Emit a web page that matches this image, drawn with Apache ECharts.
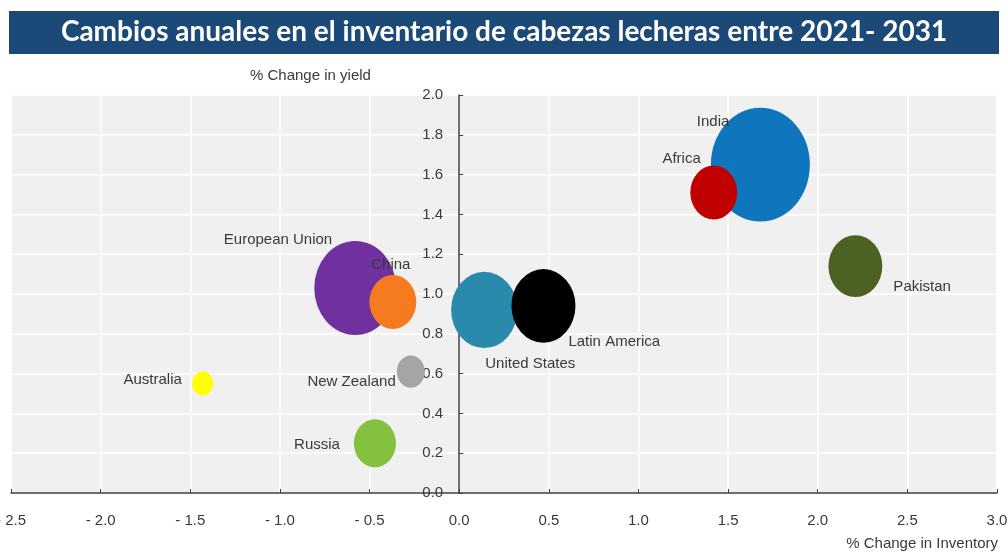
<!DOCTYPE html>
<html>
<head>
<meta charset="utf-8">
<script src="https://cdn.jsdelivr.net/npm/echarts@6/dist/echarts.min.js"></script>
<style>
html,body{margin:0;padding:0;background:#fff;}
#chart{width:1008px;height:555px;}
</style>
</head>
<body>
<div id="chart"></div>
<script>
// ---- data ----
const countries = ['European Union', 'China', 'India', 'Africa', 'United States', 'Latin America', 'Pakistan', 'New Zealand', 'Australia', 'Russia'];
const inventoryChange = [-0.58, -0.37, 1.68, 1.42, 0.14, 0.47, 2.21, -0.27, -1.43, -0.47];
const yieldChange = [1.03, 0.96, 1.65, 1.51, 0.92, 0.94, 1.14, 0.61, 0.55, 0.25];
const bubbleSize = [67, 22, 98, 22, 44, 41, 29, 7.8, 4.4, 17.6];
const xTicks = [-2.5, -2.0, -1.5, -1.0, -0.5, 0.0, 0.5, 1.0, 1.5, 2.0, 2.5, 3.0];
const yTicks = [0.0, 0.2, 0.4, 0.6, 0.8, 1.0, 1.2, 1.4, 1.6, 1.8, 2.0];
const titleText = 'Cambios anuales en el inventario de cabezas lecheras entre 2021- 2031';
const yAxisName = '% Change in yield';
const xAxisName = '% Change in Inventory';

// ---- styles ----
const colors = {
  'European Union': '#7030a0', 'China': '#f47b20', 'India': '#0f75bc', 'Africa': '#c00000',
  'United States': '#2a8aab', 'Latin America': '#000000', 'Pakistan': '#4b6224',
  'New Zealand': '#a5a5a5', 'Australia': '#ffff00', 'Russia': '#84c13f'
};
const labelStyle = {
  'European Union': {align: 'right', offset: [-23, -48]},
  'China': {align: 'center', offset: [-2, -37]},
  'India': {align: 'right', offset: [-31, -43]},
  'Africa': {align: 'right', offset: [-13, -34]},
  'United States': {align: 'left', offset: [1, 54]},
  'Latin America': {align: 'left', offset: [25, 36]},
  'Pakistan': {align: 'left', offset: [38, 21]},
  'New Zealand': {align: 'right', offset: [-15, 10]},
  'Australia': {align: 'right', offset: [-21, -4]},
  'Russia': {align: 'right', offset: [-35, 2]}
};
const FONT = "'Liberation Sans', Arial, sans-serif";
const TXT = '#3a3a3a';
const GRID = {left: 11, right: 11, top: 95, bottom: 62};
const W = 1008;

const xMin = xTicks[0], xMax = xTicks[xTicks.length - 1];
const gridW = W - GRID.left - GRID.right;
const yAxisOffset = -((0 - xMin) / (xMax - xMin)) * gridW;

const data = countries.map((c, i) => ({
  name: c,
  value: [inventoryChange[i], yieldChange[i], bubbleSize[i]],
  itemStyle: {color: colors[c], opacity: 1},
  label: {
    show: true, formatter: c, position: 'inside',
    align: labelStyle[c].align, verticalAlign: 'middle',
    offset: labelStyle[c].offset,
    color: TXT, fontFamily: FONT, fontSize: 15
  }
}));

const fmt = v => {
  const s = Math.abs(v).toFixed(1);
  return v < -1e-9 ? '- ' + s : s;
};

const chart = echarts.init(document.getElementById('chart'));
chart.setOption({
  animation: false,
  backgroundColor: '#ffffff',
  grid: Object.assign({show: true, backgroundColor: '#f0f0f0', borderWidth: 0, containLabel: false, outerBoundsMode: 'none'}, GRID),
  graphic: [
    {type: 'rect', left: 9, top: 11, shape: {width: 990, height: 43}, style: {fill: '#1c4a78'}, z: 10},
    {type: 'text', x: 504, y: 32, style: {text: titleText, fill: '#ffffff', font: "bold 28px Lato, 'Open Sans', sans-serif", textAlign: 'center', textVerticalAlign: 'middle'}, z: 11},
    {type: 'text', x: 250, y: 76, style: {text: yAxisName, fill: TXT, font: "15px " + FONT, textAlign: 'left', textVerticalAlign: 'middle'}},
    {type: 'text', x: 998, y: 544, style: {text: xAxisName, fill: TXT, font: "15px " + FONT, textAlign: 'right', textVerticalAlign: 'middle'}}
  ],
  xAxis: {
    type: 'value', min: xMin, max: xMax, interval: 0.5,
    axisLine: {onZero: false, lineStyle: {color: '#404040', width: 1.5}},
    axisTick: {show: true, inside: true, length: 4, lineStyle: {color: '#404040'}},
    axisLabel: {formatter: fmt, color: TXT, fontFamily: FONT, fontSize: 15, margin: 20},
    splitLine: {show: true, lineStyle: {color: '#ffffff', width: 1.5}}
  },
  yAxis: {
    type: 'value', min: yTicks[0], max: yTicks[yTicks.length - 1], interval: 0.2,
    offset: yAxisOffset,
    axisLine: {show: true, onZero: false, lineStyle: {color: '#404040', width: 1.5}},
    axisTick: {show: true, inside: true, length: 4, lineStyle: {color: '#404040'}},
    axisLabel: {formatter: v => v.toFixed(1), color: TXT, fontFamily: FONT, fontSize: 15, margin: 16},
    splitLine: {show: true, lineStyle: {color: '#ffffff', width: 1.5}}
  },
  series: [{
    type: 'scatter',
    symbol: 'circle',
    symbolSize: val => { const d = 10 * Math.sqrt(val[2]); return [d, d * 1.15]; },
    data: data,
    emphasis: {disabled: true}
  }]
});
</script>
</body>
</html>
